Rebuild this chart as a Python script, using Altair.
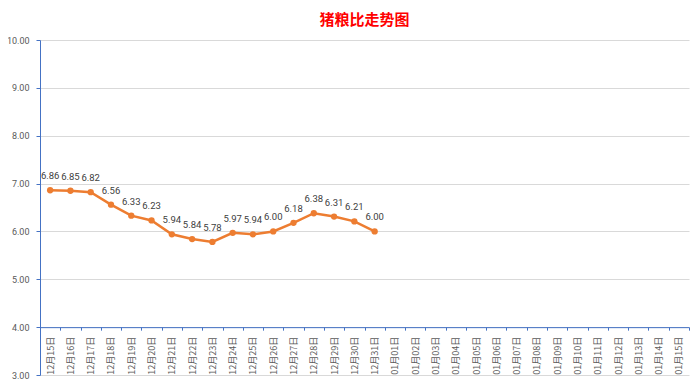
import altair as alt
import pandas as pd

categories = [f"12月{d}日" for d in range(15, 32)] + [f"01月{d:02d}日" for d in range(1, 16)]
values = [6.86, 6.85, 6.82, 6.56, 6.33, 6.23, 5.94, 5.84, 5.78, 5.97, 5.94, 6.00,
          6.18, 6.38, 6.31, 6.21, 6.00]
y_ticks = [3, 4, 5, 6, 7, 8, 9, 10]

df = pd.DataFrame({"date": categories,
                   "value": values + [None] * (len(categories) - len(values))})
pts = df.dropna()

FONT = "Noto Sans CJK SC"
NUMFONT = "Roboto"
BLUE = "#4472C4"
ORANGE = "#ED7D31"

H = 335
x_enc = alt.X("date:N", sort=categories, title=None,
              scale=alt.Scale(domain=categories, paddingInner=0, paddingOuter=0),
              axis=alt.Axis(orient="bottom", offset=-H / 7, labelAngle=270,
                            labelAlign="right", labelBaseline="middle",
                            labelFontSize=9, labelColor="#595959", labelFont=FONT,
                            labelPadding=6, tickBand="extent", tickSize=3,
                            tickColor=BLUE, domainColor=BLUE, grid=False))
y_enc = alt.Y("value:Q", title=None,
              scale=alt.Scale(domain=[3, 10], nice=False, zero=False),
              axis=alt.Axis(values=y_ticks, format=".2f", labelFontSize=9,
                            labelColor="#595959", labelFont=NUMFONT, tickSize=4,
                            tickColor=BLUE, domainColor=BLUE, gridColor="#D9D9D9",
                            labelPadding=7))

base = alt.Chart(pts)
line = base.mark_line(color=ORANGE, strokeWidth=2.5).encode(x=x_enc, y=y_enc)
points = base.mark_circle(color=ORANGE, size=40, opacity=1).encode(x=x_enc, y=y_enc)
labels = base.mark_text(dy=-14, fontSize=9.5, color="#404040", font=NUMFONT).encode(
    x=x_enc, y=y_enc, text=alt.Text("value:Q", format=".2f"))

chart = alt.layer(line, points, labels).properties(
    width=649, height=H,
    title=alt.TitleParams("猪粮比走势图", color="#FF0000", fontSize=15,
                          font=FONT, fontWeight="bold", offset=8, anchor="middle"),
    autosize=alt.AutoSizeParams(type="none"),
    padding={"left": 32, "top": 32, "right": 3, "bottom": 8},
).configure_view(stroke=None)

chart.save("out.html", embed_options={"renderer": "svg", "actions": False})
